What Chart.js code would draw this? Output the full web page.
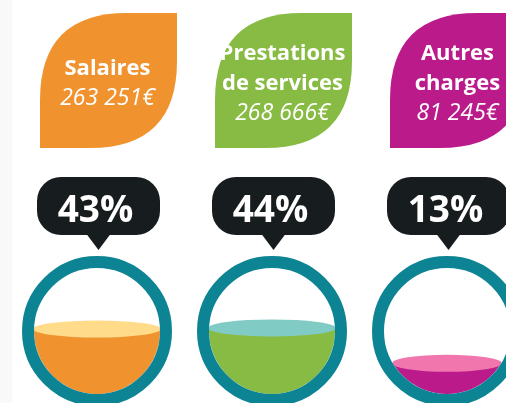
<!DOCTYPE html>
<html>
<head>
<meta charset="utf-8">
<script src="https://cdn.jsdelivr.net/npm/chart.js@4.4.1/dist/chart.umd.min.js"></script>
<style>
  html, body { margin: 0; padding: 0; overflow: hidden; }
  body { background: linear-gradient(to right, #f9f9f9 0, #f9f9f9 12px, #fff 13px); }
  #wrap { width: 506px; height: 403px; }
</style>
</head>
<body>
<div id="wrap"><canvas id="chart" width="506" height="403"></canvas></div>
<script>
/* Données */
var categories = [['Salaires'], ['Prestations', 'de services'], ['Autres', 'charges']];
var amounts = [263251, 268666, 81245];
var percents = [43, 44, 13];

var leafColors = ['#f0932f', '#88bb43', '#bb1a8b'];
var capColors = ['#ffdb8a', '#80cbc4', '#f176ae'];
var ringColor = '#0d8493';
var bubbleColor = '#171c1e';

function euros(v) {
  return String(v).replace(/\B(?=(\d{3})+(?!\d))/g, ' ') + '€';
}

var CY = 331, R_IN = 63, RING = 12;

function chord(y) {
  var d = y - CY;
  return d * d >= R_IN * R_IN ? 0 : Math.sqrt(R_IN * R_IN - d * d);
}

/* Feuilles, bulles et anneaux autour des barres */
var decor = {
  id: 'decor',
  beforeDatasetsDraw: function(chart) {
    var ctx = chart.ctx;
    var xs = chart.scales.x;
    ctx.save();
    categories.forEach(function(lines, i) {
      var x = xs.getPixelForValue(i);
      // feuille
      var l = x - 57, t = 13, w = 137, h = 135, c = 87;
      ctx.fillStyle = leafColors[i];
      ctx.beginPath();
      ctx.moveTo(l, t + c);
      ctx.quadraticCurveTo(l, t, l + c, t);
      ctx.lineTo(l + w, t);
      ctx.lineTo(l + w, t + h - c);
      ctx.quadraticCurveTo(l + w, t + h, l + w - c, t + h);
      ctx.lineTo(l, t + h);
      ctx.closePath();
      ctx.fill();
      // texte
      var all = lines.concat([euros(amounts[i])]);
      var lx = l + w / 2 - 1;
      var first = 82 - (all.length - 1) * 15 + 8;
      ctx.fillStyle = '#fff';
      ctx.textAlign = 'center';
      ctx.textBaseline = 'alphabetic';
      all.forEach(function(s, k) {
        ctx.font = k < lines.length ? 'bold 22px "Open Sans"' : 'italic 23px "Open Sans"';
        ctx.fillText(s, lx, first + k * 30);
      });
      // bulle
      var bx = x + 1.5, bw = 123, bt = 177, bb = 235, br = 24;
      ctx.fillStyle = bubbleColor;
      ctx.beginPath();
      ctx.roundRect(bx - bw / 2, bt, bw, bb - bt, br);
      ctx.fill();
      ctx.beginPath();
      ctx.moveTo(bx - 12, bb - 1);
      ctx.lineTo(bx, 250);
      ctx.lineTo(bx + 12, bb - 1);
      ctx.fill();
      ctx.fillStyle = '#fff';
      ctx.font = 'bold 37px "Open Sans"';
      ctx.fillText(percents[i] + '%', bx - 3, 222);
    });
    ctx.restore();
    // on coupe les barres dans les cercles
    ctx.save();
    ctx.beginPath();
    categories.forEach(function(_, i) {
      var x = xs.getPixelForValue(i);
      ctx.moveTo(x + R_IN, CY);
      ctx.arc(x, CY, R_IN, 0, Math.PI * 2);
    });
    ctx.clip();
  },
  afterDatasetsDraw: function(chart) {
    var ctx = chart.ctx;
    var meta = chart.getDatasetMeta(0);
    meta.data.forEach(function(bar, i) {
      ctx.fillStyle = capColors[i];
      ctx.beginPath();
      ctx.ellipse(bar.x, bar.y, chord(bar.y) + 1, 8.5, 0, 0, Math.PI * 2);
      ctx.fill();
    });
    ctx.restore();
    ctx.save();
    ctx.strokeStyle = ringColor;
    ctx.lineWidth = RING;
    meta.data.forEach(function(bar) {
      ctx.beginPath();
      ctx.arc(bar.x, CY, R_IN + RING / 2, 0, Math.PI * 2);
      ctx.stroke();
    });
    ctx.restore();
  }
};

var chart = new Chart(document.getElementById('chart'), {
  type: 'bar',
  data: {
    labels: categories,
    datasets: [{
      data: percents,
      backgroundColor: leafColors,
      borderWidth: 0,
      barThickness: 130,
      base: -20,
      clip: false
    }]
  },
  options: {
    responsive: false,
    animation: false,
    layout: {
      padding: { left: 97, right: 59, top: 264, bottom: 2 }
    },
    scales: {
      x: { type: 'category', offset: false, display: false },
      y: { min: -20, max: 100, display: false }
    },
    plugins: {
      legend: { display: false },
      tooltip: { enabled: false }
    }
  },
  plugins: [decor]
});
</script>
</body>
</html>
